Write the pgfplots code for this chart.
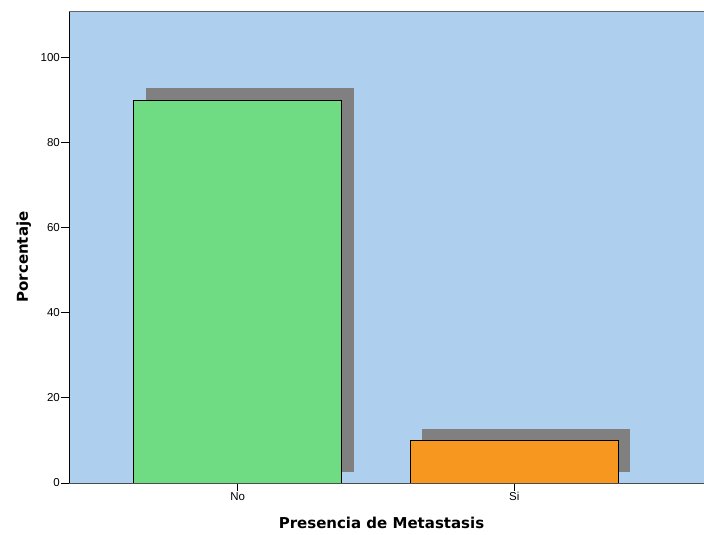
\documentclass[border=0pt]{standalone}
\usepackage{pgfplots}
\pgfplotsset{compat=1.18}
\usepackage{fontspec}
\setmainfont{Liberation Sans}
\newfontfamily\labelfont{DejaVu Sans}
\definecolor{bgblue}{RGB}{174,208,238}
\definecolor{bargreen}{RGB}{111,220,132}
\definecolor{barorange}{RGB}{248,151,31}
\definecolor{shadow}{RGB}{128,128,128}
\begin{document}
\begin{tikzpicture}[x=1pt,y=1pt]
\useasboundingbox (0,0) rectangle (704,535);
\begin{axis}[
  at={(69pt,52pt)}, anchor=south west,
  scale only axis, width=635pt, height=472pt,
  xmin=-0.61, xmax=1.686, ymin=0, ymax=110.9,
  axis background/.style={fill=bgblue},
  axis line style={draw=none},
  xtick={0,1}, xticklabels={No,Si},
  ytick={0,20,40,60,80,100},
  tick align=outside, tick style={black, line width=0.8pt},
  major tick length=8pt,
  xtick pos=bottom, ytick pos=left,
  ticklabel style={font=\fontsize{11.5}{13}\selectfont, inner sep=1pt},
  /pgf/number format/assume math mode=true,
  xlabel={\labelfont\bfseries Presencia de Metastasis},
  ylabel={\labelfont\bfseries Porcentaje},
  label style={font=\fontsize{15}{17}\selectfont},
  xlabel style={yshift=-12pt, xshift=-5pt},
  ylabel style={yshift=5pt, xshift=-10pt},
  clip=false,
]
% shadows
\addplot[fill=shadow, draw=none] coordinates {(-0.333,2.7) (0.419,2.7) (0.419,92.7) (-0.333,92.7)} -- cycle;
\addplot[fill=shadow, draw=none] coordinates {(0.667,2.7) (1.419,2.7) (1.419,12.7) (0.667,12.7)} -- cycle;
% bars
\addplot[fill=bargreen, draw=black, line width=0.8pt] coordinates {(-0.376,0) (0.376,0) (0.376,90) (-0.376,90)} -- cycle;
\addplot[fill=barorange, draw=black, line width=0.8pt] coordinates {(0.624,0) (1.376,0) (1.376,10) (0.624,10)} -- cycle;
\draw[black, line width=0.9pt] (rel axis cs:0,0) -- (rel axis cs:0,1);
\draw[black!60, line width=0.9pt] (rel axis cs:0,1) -- (rel axis cs:1,1);
\draw[black!70, line width=0.9pt] (rel axis cs:0,0) -- (rel axis cs:1,0);
\end{axis}
\end{tikzpicture}
\end{document}
